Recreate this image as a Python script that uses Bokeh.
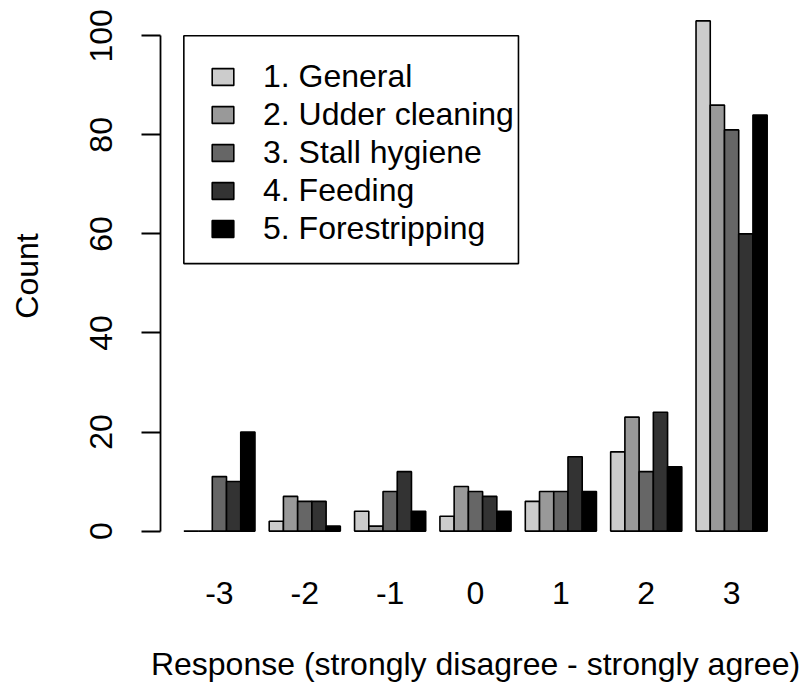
import numpy as np
from bokeh.plotting import figure
from bokeh.models import (Range1d, LinearAxis, FixedTicker, Legend, LegendItem,
                          BoxAnnotation, ColumnDataSource)
from bokeh.embed import file_html
from bokeh.resources import INLINE

# ---- data ----
responses = ["-3", "-2", "-1", "0", "1", "2", "3"]
series_names = ["1. General", "2. Udder cleaning", "3. Stall hygiene",
                "4. Feeding", "5. Forestripping"]
general = [0, 2, 4, 3, 6, 16, 103]
udder_cleaning = [0, 7, 1, 9, 8, 23, 86]
stall_hygiene = [11, 6, 8, 8, 8, 12, 81]
feeding = [10, 6, 12, 7, 15, 24, 60]
forestripping = [20, 1, 4, 4, 8, 13, 84]
y_ticks = [0, 20, 40, 60, 80, 100]

series_values = [general, udder_cleaning, stall_hygiene, feeding, forestripping]
series_colors = ["#cccccc", "#999999", "#666666", "#333333", "#000000"]

FONT = "Liberation Sans"
FS = "32px"

n_series = len(series_names)
group_step = n_series + 1          # R barplot beside=TRUE, space=c(0,1)
group_index = np.arange(len(responses))
group_left = group_index * group_step + 1
group_centers = group_left + n_series / 2.0

x_lo, x_hi = 1, len(responses) * group_step
x_pad = 0.04 * (x_hi - x_lo)
y_max = max(max(v) for v in series_values)

p = figure(width=803, height=688, output_backend="svg", toolbar_location=None,
           x_range=Range1d(x_lo - x_pad, x_hi + x_pad),
           y_range=Range1d(-0.04 * y_max, 1.04 * y_max),
           x_axis_location=None, y_axis_location=None,
           min_border_left=160, min_border_right=13,
           min_border_top=0, min_border_bottom=137)
p.outline_line_color = None
p.xgrid.visible = False
p.ygrid.visible = False
p.background_fill_color = "white"
p.border_fill_color = "white"

renderers = []
for i, (name, vals, col) in enumerate(zip(series_names, series_values, series_colors)):
    src = ColumnDataSource(dict(x=group_left + i + 0.5, top=vals, resp=responses))
    r = p.vbar(x="x", top="top", bottom=0, width=1.0, source=src,
               fill_color=col, line_color="black", line_width=1.6)
    renderers.append(r)

# legend frame
box = BoxAnnotation(left=1.0, right=24.52, bottom=54.0, top=100,
                    fill_alpha=0, line_color="black", line_alpha=1.0, line_width=1.6)
p.add_layout(box)

legend = Legend(items=[LegendItem(label=n, renderers=[r]) for n, r in zip(series_names, renderers)],
                location=(49, 304), padding=0, margin=0, spacing=0,
                glyph_width=27, glyph_height=21, label_standoff=27, label_height=38,
                label_text_font=FONT, label_text_font_size=FS, label_text_color="black",
                border_line_alpha=0, background_fill_alpha=0)
p.add_layout(legend)

# y axis
yaxis = LinearAxis(ticker=FixedTicker(ticks=y_ticks, minor_ticks=[]), bounds=(0, 100),
                   axis_label="Count")
yaxis.axis_line_width = 1.8
yaxis.major_tick_line_width = 1.8
yaxis.major_tick_out = 19
yaxis.major_tick_in = 0
yaxis.minor_tick_out = 0
yaxis.minor_tick_in = 0
yaxis.major_label_orientation = "vertical"
yaxis.major_label_standoff = 29
yaxis.major_label_text_font = FONT
yaxis.major_label_text_font_size = FS
yaxis.major_label_text_color = "black"
yaxis.axis_label_text_font = FONT
yaxis.axis_label_text_font_size = FS
yaxis.axis_label_text_font_style = "normal"
yaxis.axis_label_text_color = "black"
yaxis.axis_label_standoff = 43
p.add_layout(yaxis, "left")

# x axis (group names only)
xaxis = LinearAxis(ticker=FixedTicker(ticks=list(group_centers), minor_ticks=[]),
                   major_label_overrides={float(c): r for c, r in zip(group_centers, responses)},
                   axis_label="Response (strongly disagree - strongly agree)")
xaxis.axis_line_color = None
xaxis.major_tick_line_color = None
xaxis.minor_tick_line_color = None
xaxis.major_tick_out = 0
xaxis.major_tick_in = 0
xaxis.major_label_standoff = 30
xaxis.major_label_text_font = FONT
xaxis.major_label_text_font_size = FS
xaxis.major_label_text_color = "black"
xaxis.axis_label_text_font = FONT
xaxis.axis_label_text_font_size = FS
xaxis.axis_label_text_font_style = "normal"
xaxis.axis_label_text_color = "black"
xaxis.axis_label_standoff = 39
p.add_layout(xaxis, "below")

open("out.html", "w").write(file_html(p, INLINE))
